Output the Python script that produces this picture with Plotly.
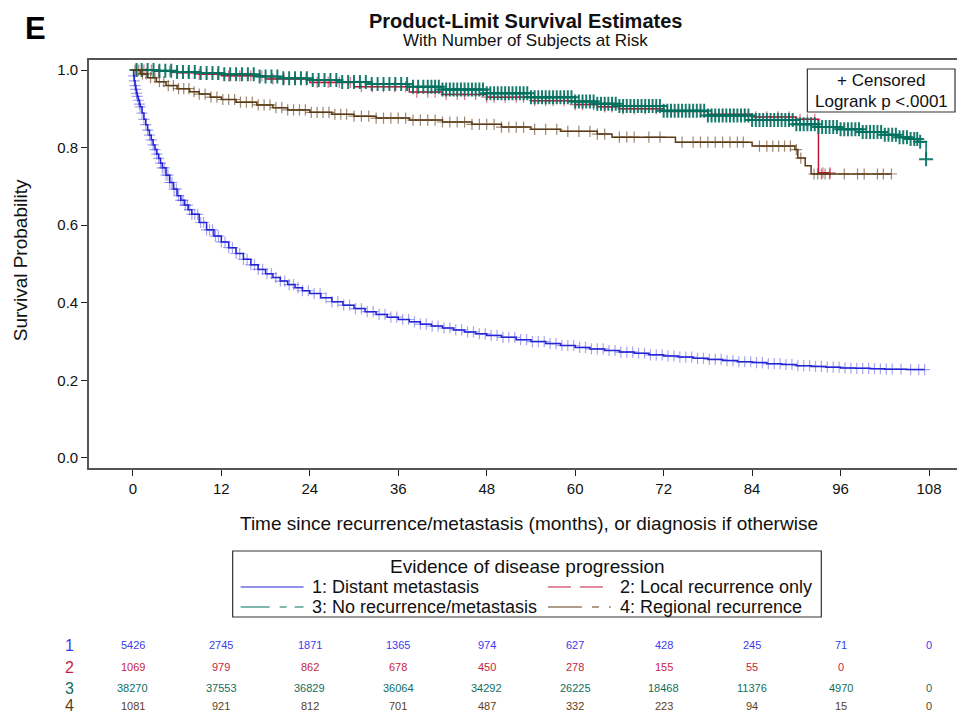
import numpy as np
import plotly.graph_objects as go

# ---------------- data ----------------
x_ticks = [0, 12, 24, 36, 48, 60, 72, 84, 96, 108]
y_ticks = [0.0, 0.2, 0.4, 0.6, 0.8, 1.0]
y_tick_text = ["0.0", "0.2", "0.4", "0.6", "0.8", "1.0"]

group_names = ["1: Distant metastasis", "2: Local recurrence only",
               "3: No recurrence/metastasis", "4: Regional recurrence"]

blue_t = [0, 0.1, 0.2, 0.3, 0.4, 0.5, 0.6, 0.75, 0.9, 1.0, 1.25, 1.5, 1.75, 2.0, 2.25, 2.5,
          2.75, 3.0, 3.25, 3.5, 3.75, 4.0, 4.5, 5.0, 5.5, 6.0, 6.5, 7.0, 7.5, 8.0, 9, 10,
          11, 12, 13, 14, 15, 16, 17, 18, 19, 20, 21, 22, 23, 24,
          25.5, 27, 28.5, 30, 31.5, 33, 34.5, 36, 37.5, 39, 40.5, 42, 43.5, 45, 46.5, 48,
          50, 52, 54, 56, 58, 60, 62, 64, 66, 68, 70, 72, 74, 76, 78, 80, 82, 84,
          86, 88, 90, 92, 94, 96, 98, 100, 102, 105, 107.4]
blue_s = [1.0, 0.985, 0.972, 0.96, 0.95, 0.94, 0.932, 0.922, 0.912, 0.905, 0.889, 0.873,
          0.859, 0.845, 0.832, 0.82, 0.807, 0.795, 0.783, 0.772, 0.76, 0.748, 0.729, 0.71,
          0.693, 0.676, 0.664, 0.652, 0.64, 0.628, 0.607, 0.588, 0.572, 0.557,
          0.542, 0.527, 0.512, 0.498, 0.486, 0.475, 0.465, 0.456, 0.447, 0.439, 0.431, 0.424,
          0.413, 0.403, 0.394, 0.385, 0.377, 0.37, 0.363, 0.357, 0.351, 0.345, 0.34, 0.335,
          0.33, 0.325, 0.32, 0.316,
          0.311, 0.305, 0.3, 0.295, 0.29, 0.285, 0.281, 0.277, 0.273, 0.27, 0.266, 0.263,
          0.26, 0.257, 0.254, 0.251, 0.248, 0.246,
          0.243, 0.241, 0.238, 0.236, 0.234, 0.232, 0.231, 0.23, 0.229, 0.228, 0.228]

red_t = [0, 3, 6, 9, 12, 18, 24, 30, 37.5, 42, 48, 54, 60, 63, 66, 72, 78, 84, 90, 93, 94.6]
red_s = [1.0, 0.997, 0.993, 0.989, 0.985, 0.977, 0.968, 0.957, 0.943, 0.937, 0.93,
         0.921, 0.911, 0.905, 0.9, 0.893, 0.886, 0.879, 0.873, 0.735, 0.735]

teal_t = [0, 3, 6, 9, 12, 16.8, 20, 24, 28, 32, 37.5, 42, 48, 54, 60, 63, 66, 72, 78, 84,
          90, 93, 96, 99, 102, 104, 105.5, 106.5, 107.6]
teal_s = [1.0, 0.998, 0.995, 0.992, 0.989, 0.983, 0.979, 0.974, 0.969, 0.964,
          0.957, 0.95, 0.94, 0.93, 0.919, 0.913, 0.907, 0.895, 0.883, 0.871,
          0.86, 0.853, 0.847, 0.84, 0.833, 0.827, 0.822, 0.815, 0.77]

brown_t = [0, 1, 2, 3.2, 4.5, 6, 7.7, 9, 10.5, 12, 14, 16.8, 19, 21, 24, 27, 30, 33, 37.5,
           42, 46, 50, 54, 58, 63, 65, 73.6, 84, 89.8, 90.2, 91.2, 92, 102.9]
brown_s = [1.0, 0.99, 0.98, 0.97, 0.96, 0.952, 0.944, 0.938, 0.93, 0.924, 0.917, 0.91,
           0.903, 0.897, 0.891, 0.886, 0.881, 0.876, 0.871, 0.866, 0.86, 0.853, 0.847,
           0.842, 0.835, 0.827, 0.814, 0.804, 0.795, 0.773, 0.753, 0.732, 0.732]

# censoring times (months)
blue_cens = [0.1, 0.2, 0.3, 0.4, 0.5, 0.6, 0.75, 0.9, 1.0, 1.25, 1.5, 1.75, 2.0, 2.25, 2.5,
             2.75, 3.0, 3.25, 3.5, 3.75, 4.0, 4.25, 4.5, 4.75, 5.0, 5.3, 5.6, 5.9, 6.2, 6.5,
             6.8, 7.1, 7.4, 7.7, 8.0, 8.4, 8.8, 9.2, 9.6, 10.0, 10.4, 10.8, 11.2, 11.6, 12.0,
             12.5, 13.0, 13.5, 14.0, 14.5, 15.0, 15.5, 16.0, 16.5, 17.0, 17.6, 18.2, 18.8,
             19.4, 20.0, 20.6, 21.2, 21.8, 22.4, 23.0, 23.8, 24.6, 25.4, 26.2, 27.0, 27.8,
             28.6, 29.4, 30.2, 31.0, 31.8, 32.6, 33.4, 34.2, 35.0, 35.8, 36.6, 37.4, 38.2,
             39.0, 39.8, 40.6, 41.4, 42.2, 43.0, 43.8, 44.6, 45.4, 46.2, 47.0, 47.8, 48.6,
             49.4, 50.2, 51.0, 51.8, 52.6, 53.4, 54.2, 55.0, 55.8, 56.6, 57.4, 58.2, 59.0,
             59.8, 60.6, 61.4, 62.2, 63.0, 63.8, 64.6, 65.4, 66.2, 67.0, 67.8, 68.6, 69.4,
             70.2, 71.0, 71.8, 72.6, 73.4, 74.2, 75.0, 75.8, 76.6, 77.4, 78.2, 79.0, 79.8,
             80.6, 81.4, 82.2, 83.0, 83.8, 84.6, 85.4, 86.2, 87.0, 87.8, 88.6, 89.4, 90.2,
             91.0, 91.8, 92.6, 93.4, 94.2, 95.0, 95.8, 96.6, 97.4, 98.2, 99.0, 99.8, 100.6,
             101.4, 102.2, 103.0, 104.2, 105.5, 106.6, 107.4]
red_cens = [0.5, 1.5, 2.5, 3.5, 5.0, 6.0, 7.5, 9.0, 10.0, 11.5, 13.0, 14.5, 16.0, 17.5, 19.0,
            20.5, 22.0, 23.5, 25.0, 26.5, 28.0, 29.5, 31.0, 32.5, 34.0, 35.5, 37.0, 38.5,
            40.0, 41.0, 42.5, 44.0, 45.0, 46.5, 48.0, 49.0, 50.5, 52.0, 53.0, 54.5, 56.0,
            57.0, 58.5, 60.0, 61.0, 62.5, 64.0, 65.0, 66.5, 68.0, 69.5, 71.0, 72.5, 74.0,
            75.5, 77.0, 78.5, 80.0, 81.5, 83.0, 84.5, 86.0, 87.5, 89.0, 90.5, 91.5, 92.5,
            93.6, 94.6]
teal_cens = [0.5, 1.2, 2.0, 2.8, 3.6, 4.4, 5.2, 6.0, 6.8, 7.6, 8.4, 9.2, 10.0, 10.8, 11.6,
             12.4, 13.2, 14.0, 14.8, 15.6, 16.4, 17.2, 18.0, 18.8, 19.6, 20.4, 21.2, 22.0,
             22.8, 23.6, 24.4, 25.2, 26.0, 26.8, 27.6, 28.4, 29.2, 30.0, 30.8, 31.6, 32.4,
             33.2, 34.0, 34.8, 35.6, 36.4, 37.2, 38.0, 38.7, 39.4, 40.0, 40.5, 41.0, 41.5,
             42.0, 42.5, 43.0, 43.5, 44.0, 44.5, 45.0, 45.5, 46.0, 46.5, 47.0, 47.5, 48.0,
             48.5, 49.0, 49.5, 50.0, 50.5, 51.0, 51.5, 52.0, 52.5, 53.0, 53.5, 54.0, 54.5,
             55.0, 55.5, 56.0, 56.5, 57.0, 57.5, 58.0, 58.5, 59.0, 59.5, 60.0, 60.5, 61.0,
             61.5, 62.0, 62.5, 63.0, 63.5, 64.0, 64.5, 65.0, 65.5, 66.0, 66.5, 67.0, 67.5,
             68.0, 68.5, 69.0, 69.5, 70.0, 70.5, 71.0, 71.5, 72.0, 72.5, 73.0, 73.5, 74.0,
             74.5, 75.0, 75.5, 76.0, 76.5, 77.0, 77.5, 78.0, 78.5, 79.0, 79.5, 80.0, 80.5,
             81.0, 81.5, 82.0, 82.5, 83.0, 83.5, 84.0, 84.5, 85.0, 85.5, 86.0, 86.5, 87.0,
             87.5, 88.0, 88.5, 89.0, 89.5, 90.0, 90.5, 91.0, 91.5, 92.0, 92.5, 93.0, 93.5,
             94.0, 94.5, 95.0, 95.5, 96.0, 96.5, 97.0, 97.5, 98.0, 98.5, 99.0, 99.5, 100.0,
             100.5, 101.0, 101.5, 102.0, 102.5, 103.0, 103.5, 104.0, 104.5, 105.0, 105.5,
             106.0, 106.4, 106.8, 107.6]
brown_cens = [0.3, 0.8, 1.3, 1.8, 2.4, 3.0, 3.6, 4.2, 4.8, 5.5, 6.2, 6.9, 7.6, 8.3, 9.0, 9.8,
              10.6, 11.4, 12.2, 13.0, 13.8, 14.6, 15.4, 16.2, 17.0, 17.8, 18.6, 19.4, 20.2,
              21.0, 21.8, 22.6, 23.4, 24.2, 25.0, 25.8, 26.6, 27.4, 28.2, 29.0, 30.0, 31.0,
              32.0, 33.0, 34.0, 35.0, 36.0, 37.0, 38.0, 39.0, 40.0, 41.0, 42.0, 43.0, 44.0,
              45.0, 46.0, 47.0, 48.0, 49.0, 50.0, 51.0, 52.0, 53.0, 54.5, 56.0, 57.5, 59.0,
              60.5, 62.0, 63.0, 64.0, 66.0, 67.0, 68.0, 70.0, 71.5, 74.5, 76.0, 77.0, 78.0,
              79.0, 80.0, 81.0, 82.0, 82.8, 85.0, 86.0, 86.8, 87.6, 88.4, 89.2, 90.0, 90.6,
              92.4, 92.9, 93.4, 93.9, 94.5, 96.5, 98.3, 99.2, 101.0, 101.8, 102.9]

at_risk = {
    "1": [5426, 2745, 1871, 1365, 974, 627, 428, 245, 71, 0],
    "2": [1069, 979, 862, 678, 450, 278, 155, 55, 0, None],
    "3": [38270, 37553, 36829, 36064, 34292, 26225, 18468, 11376, 4970, 0],
    "4": [1081, 921, 812, 701, 487, 332, 223, 94, 15, 0],
}

line_colors = ["#2424D6", "#C4163A", "#00705F", "#5C3A15"]
table_colors = ["#3B3BF0", "#C81E3E", "#0F6E5E", "#5C3D1E"]

# ---------------- layout helpers (page pixel -> paper) ----------------
OFF = 8                      # default page margin of the html body
W, H = 965 - OFF, 715 - OFF
L, R, T, B = 89, 962, 60, 468   # plot frame in page pixels
def px(x):
    return (x - L) / (R - L)
def py(y):
    return (B - y) / (B - T)

def step_at(times, surv, t):
    times = np.asarray(times)
    idx = np.searchsorted(times, t, side="right") - 1
    return [surv[i] for i in idx]

FONT = "Liberation Sans, Arial, sans-serif"

fig = go.Figure()

curves = [(blue_t, blue_s, blue_cens), (red_t, red_s, red_cens),
          (teal_t, teal_s, teal_cens), (brown_t, brown_s, brown_cens)]
marker_op = [0.4, 0.6, 0.9, 0.6]
marker_lw = [1.2, 1.2, 2.0, 1.2]
marker_sz = [8, 8, 10, 8]

for i, (t, s, c) in enumerate(curves):
    fig.add_trace(go.Scatter(x=t, y=s, mode="lines", line_shape="hv",
                             line=dict(color=line_colors[i], width=1.5),
                             showlegend=False, hoverinfo="skip"))
    fig.add_trace(go.Scatter(x=c, y=step_at(t, s, c), mode="markers",
                             marker=dict(symbol="cross-thin", size=marker_sz[i],
                                         opacity=marker_op[i],
                                         line=dict(color=line_colors[i], width=marker_lw[i])),
                             showlegend=False, hoverinfo="skip"))

fig.update_layout(
    width=W, height=H,
    margin=dict(l=L - OFF, r=965 - R, t=T - OFF, b=715 - B),
    paper_bgcolor="white", plot_bgcolor="white",
    font=dict(family=FONT, color="#111"),
    showlegend=False,
    xaxis=dict(range=[-5.95, 112.2], tickvals=x_ticks, ticks="outside", ticklen=6,
               tickwidth=1.3, tickcolor="#222", showline=True, linecolor="#555",
               linewidth=1.6, mirror=True, showgrid=False, zeroline=False,
               tickfont=dict(size=15, family=FONT, color="#111")),
    yaxis=dict(range=[-0.0258, 1.0258], tickvals=y_ticks, ticktext=y_tick_text,
               ticks="outside", ticklen=6, tickwidth=1.3, tickcolor="#222",
               showline=True, linecolor="#555", linewidth=1.6, mirror=True,
               showgrid=False, zeroline=False,
               tickfont=dict(size=15, family=FONT, color="#111")),
)

ann = []
def add_text(text, x, y, size, bold=False, color="#111", xanchor="center", angle=0):
    ann.append(dict(text=("<b>%s</b>" % text) if bold else text, x=x, y=y, xref="paper",
                    yref="paper", showarrow=False, xanchor=xanchor, yanchor="middle",
                    textangle=angle, font=dict(size=size, color=color, family=FONT)))

add_text("E", px(35), py(28), 31, bold=True, color="#000")
add_text("Product-Limit Survival Estimates", px(527), py(21), 20, bold=True)
add_text("With Number of Subjects at Risk", px(527), py(41), 17)
add_text("Survival Probability", px(20), py(260), 19, angle=-90)
add_text("Time since recurrence/metastasis (months), or diagnosis if otherwise",
         px(530), py(523), 19)

# censored box
add_text("+ Censored", px(883), py(80), 17)
add_text("Logrank p <.0001", px(883), py(101), 17)

shapes = [dict(type="rect", xref="paper", yref="paper", x0=px(809), x1=px(957),
               y0=py(112), y1=py(69), line=dict(color="#333", width=1.2))]

# legend box
shapes.append(dict(type="rect", xref="paper", yref="paper", x0=px(233), x1=px(823),
                   y0=py(617), y1=py(551), line=dict(color="#333", width=1.2)))
add_text("Evidence of disease progression", px(529), py(566), 19)
legend_pos = [(241, 587), (549, 587), (241, 607), (549, 607)]
legend_dash = ["solid", "23px,9px", "29px,10px,7px,8px", "34px,10px,7px,10px"]
for i, (lx, ly) in enumerate(legend_pos):
    shapes.append(dict(type="line", xref="paper", yref="paper", x0=px(lx), x1=px(lx + 63),
                       y0=py(ly), y1=py(ly),
                       line=dict(color=line_colors[i], width=1, dash=legend_dash[i])))
    add_text(group_names[i], px(lx + 70), py(ly), 18, xanchor="left")

# at-risk table
row_y = [645, 667, 688, 706]
for r, (g, vals) in enumerate(at_risk.items()):
    add_text(g, px(69), py(row_y[r] - (1 if r == 3 else 0)), 16, color=table_colors[r])
    for xv, v in zip(x_ticks, vals):
        if v is None:
            continue
        ann.append(dict(text=str(v), x=xv, y=py(row_y[r]), xref="x", yref="paper",
                        showarrow=False, xanchor="center", yanchor="middle",
                        font=dict(size=11, color=table_colors[r], family=FONT)))

fig.update_layout(annotations=ann, shapes=shapes)
fig.write_html("out.html")
